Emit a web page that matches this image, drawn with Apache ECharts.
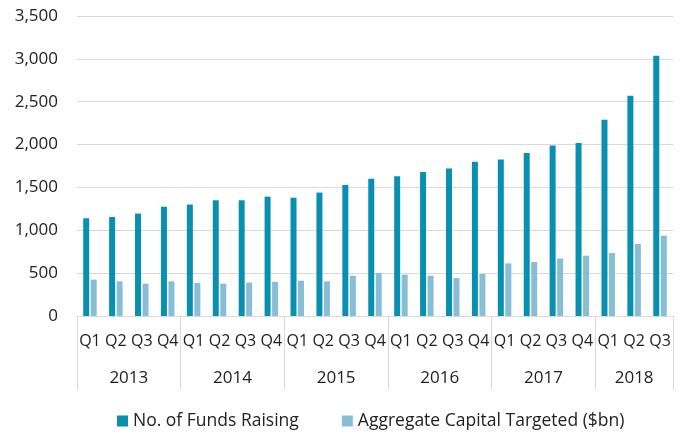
<!DOCTYPE html>
<html>
<head>
<meta charset="utf-8">
<script src="https://cdn.jsdelivr.net/npm/echarts@6/dist/echarts.min.js"></script>
<style>
    html, body { margin: 0; padding: 0; background: #fff; }
    #chart { width: 686px; height: 434px; }
</style>
</head>
<body>
<div id="chart"></div>
<script>
// quarters along the bottom, years below them
const quarters = ['Q1', 'Q2', 'Q3', 'Q4', 'Q1', 'Q2', 'Q3', 'Q4', 'Q1', 'Q2', 'Q3', 'Q4',
    'Q1', 'Q2', 'Q3', 'Q4', 'Q1', 'Q2', 'Q3', 'Q4', 'Q1', 'Q2', 'Q3'];
const years = ['2013', '2014', '2015', '2016', '2017', '2018'];
const yearStarts = [0, 4, 8, 12, 16, 20, 23];

const fundsRaising = [1140, 1155, 1195, 1275, 1300, 1350, 1350, 1392, 1380, 1440, 1528, 1602,
    1630, 1680, 1720, 1800, 1825, 1902, 1990, 2018, 2290, 2570, 3037];
const capitalTargeted = [424, 404, 378, 404, 386, 378, 390, 397, 412, 404, 470, 502,
    482, 470, 443, 490, 614, 630, 672, 704, 735, 840, 937];

const yTicks = { min: 0, max: 3500, interval: 500 };

const chart = echarts.init(document.getElementById('chart'));

// year labels sit in the middle of each group
const yearMids = years.map((y, i) => (yearStarts[i] + yearStarts[i + 1]) / 2);

const opts = {
    textStyle: { fontFamily: 'Open Sans' },
    grid: { left: 77, right: 13, top: 16, bottom: 118 },
    legend: {
        top: 412,
        left: 117,
        padding: 0,
        icon: 'rect',
        itemWidth: 11,
        itemHeight: 11,
        itemGap: 43,
        textStyle: { fontSize: 17.5, color: '#222', fontFamily: 'Open Sans' },
        data: ['No. of Funds Raising', 'Aggregate Capital Targeted ($bn)']
    },
    xAxis: [
        {
            type: 'category',
            data: quarters,
            axisLine: { lineStyle: { color: '#d9d9d9' } },
            axisTick: { show: false },
            axisLabel: { interval: 0, fontSize: 16, color: '#222', margin: 17 }
        },
        {
            type: 'value',
            min: 0,
            max: quarters.length,
            position: 'bottom',
            axisLine: { show: false },
            splitLine: { show: false },
            axisTick: {
                show: true,
                customValues: yearStarts,
                length: 74,
                lineStyle: { color: '#d9d9d9' }
            },
            axisLabel: {
                customValues: yearMids,
                fontSize: 17,
                color: '#222',
                margin: 54,
                formatter: (v) => years[yearMids.indexOf(v)]
            }
        }
    ],
    yAxis: {
        type: 'value',
        min: yTicks.min,
        max: yTicks.max,
        interval: yTicks.interval,
        axisLine: { show: false },
        axisTick: { show: false },
        axisLabel: {
            fontSize: 17,
            color: '#222',
            margin: 19,
            formatter: (v) => v.toLocaleString('en-US')
        },
        splitLine: { lineStyle: { color: '#d9d9d9', width: 1 } }
    },
    series: [
        {
            name: 'No. of Funds Raising',
            type: 'bar',
            data: fundsRaising,
            barWidth: 6,
            barGap: '25%',
            itemStyle: { color: '#0890b0' }
        },
        {
            name: 'Aggregate Capital Targeted ($bn)',
            type: 'bar',
            data: capitalTargeted,
            barWidth: 6,
            itemStyle: { color: '#88bdd6' }
        }
    ]
};
chart.setOption(opts);
</script>
</body>
</html>
